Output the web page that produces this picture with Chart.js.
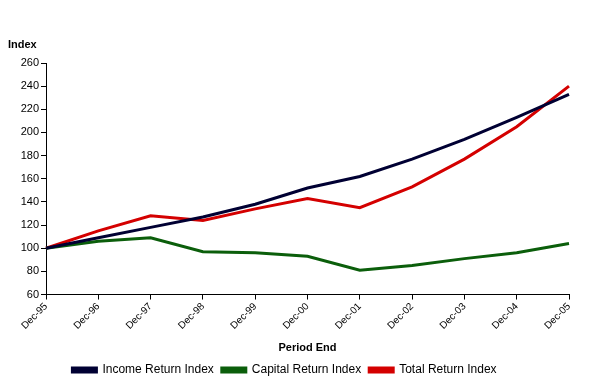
<!DOCTYPE html>
<html>
<head>
<meta charset="utf-8">
<script src="https://cdn.jsdelivr.net/npm/chart.js@4"></script>
<style>
  html, body { margin: 0; padding: 0; background: #fff; }
  #wrap { width: 595px; height: 386px; position: relative; }
</style>
</head>
<body>
<div id="wrap"><canvas id="chart" width="595" height="386"></canvas></div>
<script>
// ---- data ----
const periods = ["Dec-95", "Dec-96", "Dec-97", "Dec-98", "Dec-99", "Dec-00",
                 "Dec-01", "Dec-02", "Dec-03", "Dec-04", "Dec-05"];
const incomeIdx  = [100, 109, 118, 127, 138, 152, 162, 177, 194, 213, 233];
const capitalIdx = [100, 106, 109,  97,  96,  93,  81,  85,  91,  96, 104];
const totalIdx   = [100, 115, 128, 124, 134, 143, 135, 153, 177, 205, 240];

const font = "'Liberation Sans', Arial, sans-serif";

// y-axis caption drawn horizontally above the axis
const indexLabel = {
  id: 'indexLabel',
  afterDraw(chart) {
    const c = chart.ctx;
    c.save();
    c.font = "bold 11px " + font;
    c.fillStyle = '#000';
    c.textBaseline = 'middle';
    c.fillText('Index', 8, 45);
    c.restore();
  }
};

const mk = (label, data, color) => ({
  label, data,
  borderColor: color, backgroundColor: color,
  borderWidth: 3, pointRadius: 0, tension: 0
});

new Chart(document.getElementById('chart'), {
  type: 'line',
  data: {
    labels: periods,
    datasets: [
      mk('Income Return Index', incomeIdx, '#000033'),
      mk('Capital Return Index', capitalIdx, '#0b5e0b'),
      mk('Total Return Index', totalIdx, '#d40000')
    ]
  },
  options: {
    responsive: false,
    animation: false,
    layout: { padding: { top: 63, right: 26, left: 0, bottom: 0 } },
    plugins: {
      tooltip: { enabled: false },
      legend: {
        position: 'bottom',
        labels: { font: { family: font, size: 12 }, color: '#000',
                  boxWidth: 24, boxHeight: 4, padding: 8 }
      }
    },
    scales: {
      x: {
        offset: false,
        border: { color: '#000', width: 1 },
        grid: { drawOnChartArea: false, drawTicks: true, tickLength: 5, color: '#000' },
        ticks: { font: { family: font, size: 10 }, color: '#000',
                 minRotation: 45, maxRotation: 45, padding: 1 },
        title: { display: true, text: 'Period End', color: '#000',
                 font: { family: font, size: 11, weight: 'bold' }, padding: { top: 9, bottom: 1 } }
      },
      y: {
        min: 60, max: 260,
        border: { color: '#000', width: 1 },
        grid: { drawOnChartArea: false, drawTicks: true, tickLength: 5, color: '#000' },
        ticks: { stepSize: 20, font: { family: font, size: 11 }, color: '#000', padding: 2 },
        afterFit: s => { s.width = 46; }
      }
    }
  },
  plugins: [indexLabel]
});
</script>
</body>
</html>
